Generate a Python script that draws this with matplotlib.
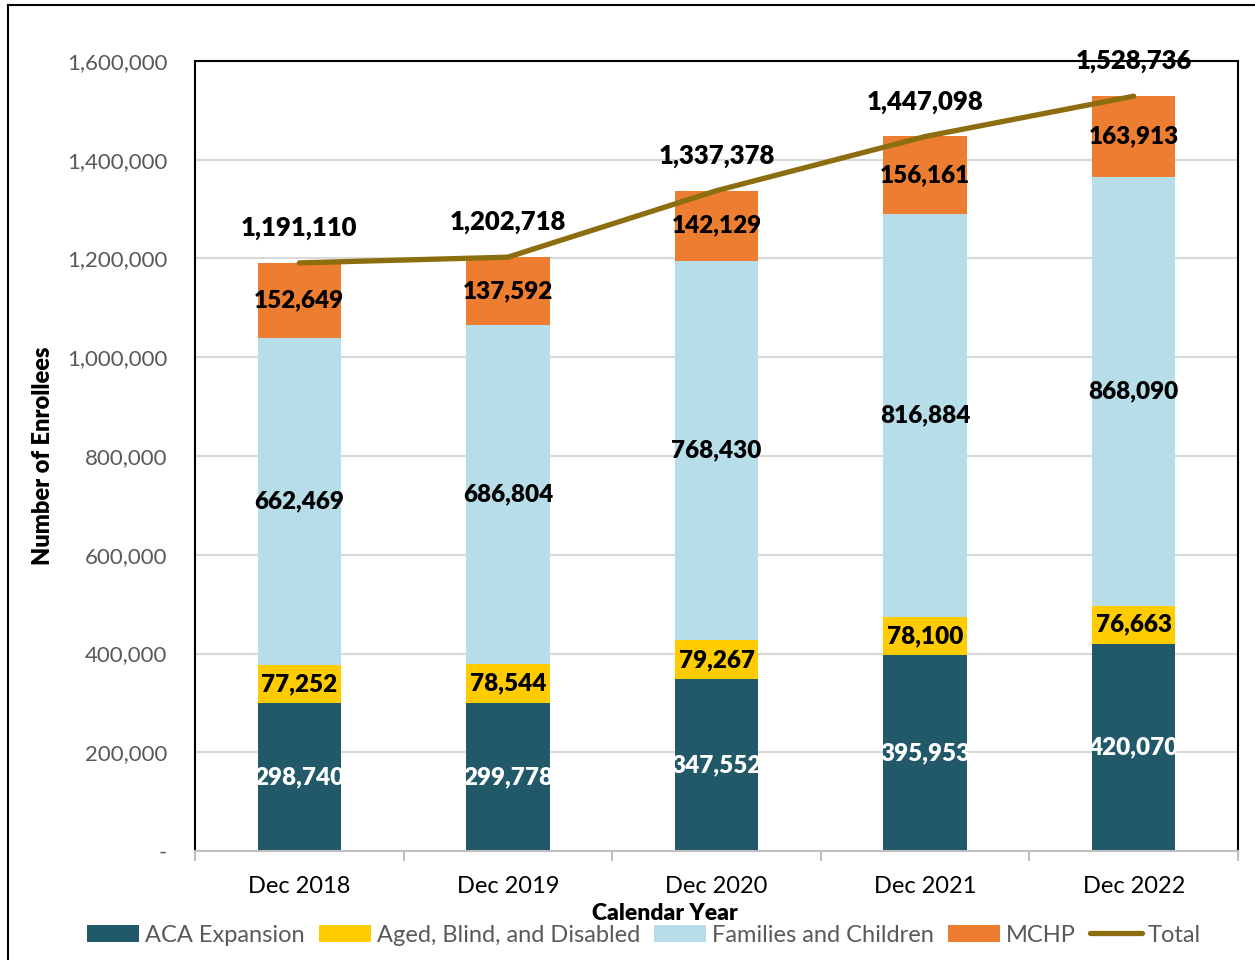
import matplotlib.pyplot as plt
import numpy as np
from matplotlib.lines import Line2D
from matplotlib.patches import Patch

plt.rcParams['font.family'] = ['Lato', 'DejaVu Sans']

years = ['Dec 2018', 'Dec 2019', 'Dec 2020', 'Dec 2021', 'Dec 2022']
aca = [298740, 299778, 347552, 395953, 420070]
abd = [77252, 78544, 79267, 78100, 76663]
families = [662469, 686804, 768430, 816884, 868090]
mchp = [152649, 137592, 142129, 156161, 163913]
total = [1191110, 1202718, 1337378, 1447098, 1528736]

series_names = ['ACA Expansion', 'Aged, Blind, and Disabled', 'Families and Children', 'MCHP']
series_vals = [aca, abd, families, mchp]
colors = ['#215968', '#FFCC00', '#B7DEE8', '#ED7D31']
label_colors = ['white', 'black', 'black', 'black']
line_color = '#8C6D0F'

fig = plt.figure(figsize=(12.55, 9.6), dpi=100)
ax = fig.add_axes([195/1255, 1 - 851/960, (1238-195)/1255, (851-61)/960])

x = np.arange(len(years))
bottom = np.zeros(len(years))
for name, vals, c, lc in zip(series_names, series_vals, colors, label_colors):
    vals = np.array(vals)
    ax.bar(x, vals, 0.4, bottom=bottom, color=c, zorder=2)
    for xi, b, v in zip(x, bottom, vals):
        ax.text(xi, b + v / 2, f'{v:,}', ha='center', va='center',
                fontsize=17.5, fontweight='heavy', color=lc, zorder=4)
    bottom += vals

ax.plot(x, total, color=line_color, linewidth=3.8, zorder=3, solid_capstyle='round')
for xi, t in zip(x, total):
    ax.annotate(f'{t:,}', (xi, t), xytext=(0, 25), textcoords='offset points',
                ha='center', va='center', fontsize=18.5, fontweight='heavy', color='black')

ax.set_xlim(-0.5, 4.5)
ax.set_ylim(0, 1600000)
yt = np.arange(0, 1600001, 200000)
ax.set_yticks(yt)
ax.set_yticklabels(['-'] + [f'{v:,}' for v in yt[1:]], color='#595959', fontsize=16)
ax.tick_params(axis='y', length=0, pad=20)
ax.set_xticks(x)
ax.set_xticklabels(years, fontsize=17, color='black')
ax.tick_params(axis='x', length=0, pad=18)
ax.set_xticks(np.arange(-0.5, 5, 1), minor=True)
ax.tick_params(axis='x', which='minor', length=7, color='#BFBFBF', width=1.5)
ax.grid(axis='y', color='#D9D9D9', linewidth=1.5, zorder=0)
ax.set_axisbelow(True)
for s in ['left', 'top', 'right']:
    ax.spines[s].set_color('black')
    ax.spines[s].set_linewidth(1.5)
ax.spines['bottom'].set_color('#BFBFBF')
ax.spines['bottom'].set_linewidth(1.5)

ax.set_ylabel('Number of Enrollees', fontsize=17, fontweight='heavy', labelpad=0)
ax.yaxis.set_label_coords(-0.135, 0.5)
fig.text(665/1255, 1 - 913/960, 'Calendar Year', ha='center', va='center',
         fontsize=16.5, fontweight='heavy')

handles = [Patch(facecolor=c) for c in colors] + [Line2D([0], [0], color=line_color, linewidth=3.8, solid_capstyle='round')]
leg = fig.legend(handles, series_names + ['Total'], loc='center', ncol=5,
                 bbox_to_anchor=(644/1255, 1 - 935/960), frameon=False, fontsize=17,
                 handlelength=2.2, handleheight=0.7, handletextpad=0.25, columnspacing=0.6)
for t in leg.get_texts():
    t.set_color('#595959')

# outer chart frame (cropped)
fig.add_artist(Line2D([8/1255, 1], [1 - 5/960, 1 - 5/960], color='black', linewidth=1.5))
fig.add_artist(Line2D([8/1255, 8/1255], [0, 1 - 5/960], color='black', linewidth=1.5))

fig.savefig('out.png', dpi=100)
